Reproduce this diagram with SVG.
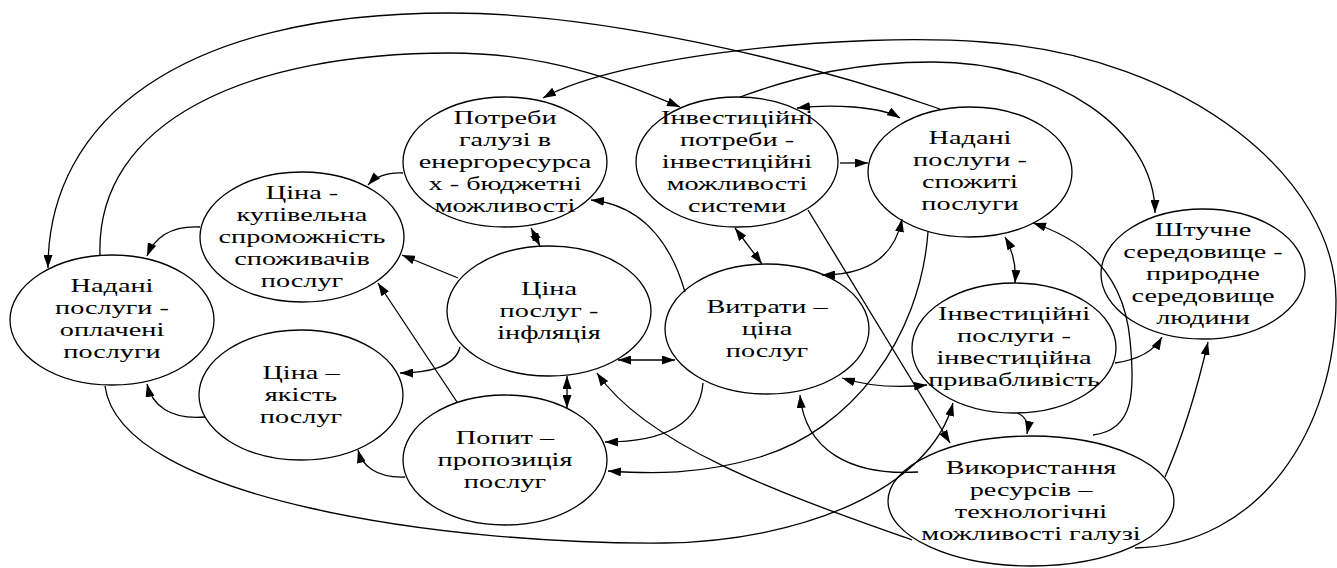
<svg xmlns="http://www.w3.org/2000/svg" width="1337" height="568" viewBox="0 0 1337 568">
<style>
.n ellipse{fill:none;stroke:#000;stroke-width:1.3}
.n text{font-family:'Liberation Serif','DejaVu Serif','Noto Serif',serif;font-size:19.5px;fill:#000;text-anchor:middle}
.c path{fill:none;stroke:#000;stroke-width:1.3}
.a{marker-end:url(#ah)}
.b{marker-start:url(#ah);marker-end:url(#ah)}
</style>
<defs>
<marker id="ah" viewBox="0 0 13 9" refX="13" refY="4.5" markerWidth="13" markerHeight="9" orient="auto-start-reverse" markerUnits="userSpaceOnUse">
<path d="M0,0 L13,4.5 L0,9 z" fill="#000"/>
</marker>
</defs>
<rect width="1337" height="568" fill="#fff"/>
<g id="connectors" class="c">
<path class="a" d="M940,109 C800,60 600,13 450,13 C180,13 48,120 48,268"/>
<path class="a" d="M100,256 C95,120 250,53 450,53 C560,53 640,90 680,107"/>
<path class="a" d="M1135,548 C1260,545 1336,430 1336,300 C1336,180 1190,56 983,42 C850,32 620,55 543,98"/>
<path class="a" d="M740,97 C800,75 860,62 933,62 C1056,62 1155,130 1155,213"/>
<path class="b" d="M797,108 C830,104 880,106 900,118"/>
<path class="a" d="M840,163 L868,163"/>
<path class="a" d="M403,173 Q380,172 368,185"/>
<path class="a" d="M200,227 Q160,225 147,256"/>
<path class="a" d="M458,278 L402,255"/>
<path class="a" d="M457,402 L378,283"/>
<path class="b" d="M531,228 L540,246"/>
<path class="a" d="M460,347 C455,368 425,373 400,373"/>
<path class="a" d="M205,417 C170,420 152,405 147,384"/>
<path class="a" d="M405,477 C375,478 362,465 358,450"/>
<path class="a" d="M685,292 C670,240 640,205 591,200"/>
<path class="b" d="M735,228 L762,264"/>
<path class="b" d="M902,219 C895,255 870,275 822,275"/>
<path class="b" d="M618,360 L675,360"/>
<path class="b" d="M567,376 L567,408"/>
<path class="a" d="M703,383 C700,420 670,442 605,442"/>
<path class="a" d="M928,232 C920,340 850,430 760,457 C700,475 650,474 608,471"/>
<path class="a" d="M808,210 L950,443"/>
<path class="a" d="M912,540 C800,500 650,450 597,373"/>
<path class="a" d="M105,386 C120,500 450,545 665,543 C800,541 930,490 953,403"/>
<path class="b" d="M842,378 Q880,390 927,385"/>
<path class="a" d="M918,472 C850,476 805,450 800,395"/>
<path class="b" d="M1005,237 Q1017,258 1015,283"/>
<path class="a" d="M1017,413 Q1030,418 1027,434"/>
<path class="a" d="M1115,363 Q1150,358 1162,337"/>
<path class="a" d="M1165,477 Q1190,420 1208,342"/>
<path class="a" d="M1093,435 C1135,430 1135,390 1130,340 C1124,275 1085,240 1033,223"/>
</g>
<g id="n1" class="n"><ellipse cx="505" cy="162" rx="102" ry="65"/>
<text font-family="Liberation Serif, serif" transform="translate(505,0) scale(1.45,1)"><tspan x="0" y="124">Потреби</tspan><tspan x="0" y="146">галузі в</tspan><tspan x="0" y="168">енергоресурса</tspan><tspan x="0" y="190">х  - бюджетні</tspan><tspan x="0" y="212">можливості</tspan></text></g>
<g id="n2" class="n"><ellipse cx="737" cy="162" rx="101" ry="65"/>
<text font-family="Liberation Serif, serif" transform="translate(737,0) scale(1.45,1)"><tspan x="0" y="124">Інвестиційні</tspan><tspan x="0" y="146">потреби  -</tspan><tspan x="0" y="168">інвестиційні</tspan><tspan x="0" y="190">можливості</tspan><tspan x="0" y="212">системи</tspan></text></g>
<g id="n3" class="n"><ellipse cx="970" cy="172" rx="102" ry="65"/>
<text font-family="Liberation Serif, serif" transform="translate(970,0) scale(1.45,1)"><tspan x="0" y="144">Надані</tspan><tspan x="0" y="166">послуги -</tspan><tspan x="0" y="188">спожиті</tspan><tspan x="0" y="210">послуги</tspan></text></g>
<g id="n4" class="n"><ellipse cx="1203" cy="274" rx="102" ry="65"/>
<text font-family="Liberation Serif, serif" transform="translate(1203,0) scale(1.45,1)"><tspan x="0" y="236">Штучне</tspan><tspan x="0" y="258">середовище  -</tspan><tspan x="0" y="280">природне</tspan><tspan x="0" y="302">середовище</tspan><tspan x="0" y="324">людини</tspan></text></g>
<g id="n5" class="n"><ellipse cx="302" cy="237" rx="102" ry="65"/>
<text font-family="Liberation Serif, serif" transform="translate(302,0) scale(1.45,1)"><tspan x="0" y="199">Ціна  -</tspan><tspan x="0" y="221">купівельна</tspan><tspan x="0" y="243">спроможність</tspan><tspan x="0" y="265">споживачів</tspan><tspan x="0" y="287">послуг</tspan></text></g>
<g id="n6" class="n"><ellipse cx="112" cy="320" rx="102" ry="65"/>
<text font-family="Liberation Serif, serif" transform="translate(112,0) scale(1.45,1)"><tspan x="0" y="292">Надані</tspan><tspan x="0" y="314">послуги -</tspan><tspan x="0" y="336">оплачені</tspan><tspan x="0" y="358">послуги</tspan></text></g>
<g id="n7" class="n"><ellipse cx="301" cy="395" rx="102" ry="65"/>
<text font-family="Liberation Serif, serif" transform="translate(301,0) scale(1.45,1)"><tspan x="0" y="379">Ціна –</tspan><tspan x="0" y="401">якість</tspan><tspan x="0" y="423">послуг</tspan></text></g>
<g id="n8" class="n"><ellipse cx="549" cy="311" rx="102" ry="65"/>
<text font-family="Liberation Serif, serif" transform="translate(549,0) scale(1.45,1)"><tspan x="0" y="295">Ціна</tspan><tspan x="0" y="317">послуг -</tspan><tspan x="0" y="339">інфляція</tspan></text></g>
<g id="n9" class="n"><ellipse cx="767" cy="329" rx="102" ry="65"/>
<text font-family="Liberation Serif, serif" transform="translate(767,0) scale(1.45,1)"><tspan x="0" y="313">Витрати –</tspan><tspan x="0" y="335">ціна</tspan><tspan x="0" y="357">послуг</tspan></text></g>
<g id="n10" class="n"><ellipse cx="505" cy="460" rx="102" ry="65"/>
<text font-family="Liberation Serif, serif" transform="translate(505,0) scale(1.45,1)"><tspan x="0" y="444">Попит –</tspan><tspan x="0" y="466">пропозиція</tspan><tspan x="0" y="488">послуг</tspan></text></g>
<g id="n11" class="n"><ellipse cx="1014" cy="348" rx="102" ry="65"/>
<text font-family="Liberation Serif, serif" transform="translate(1014,0) scale(1.45,1)"><tspan x="0" y="320">Інвестиційні</tspan><tspan x="0" y="342">послуги -</tspan><tspan x="0" y="364">інвестиційна</tspan><tspan x="0" y="386">привабливість</tspan></text></g>
<g id="n12" class="n"><ellipse cx="1031" cy="501" rx="143" ry="65"/>
<text font-family="Liberation Serif, serif" transform="translate(1031,0) scale(1.45,1)"><tspan x="0" y="474">Використання</tspan><tspan x="0" y="496">ресурсів –</tspan><tspan x="0" y="518">технологічні</tspan><tspan x="0" y="540">можливості галузі</tspan></text></g>
</svg>
